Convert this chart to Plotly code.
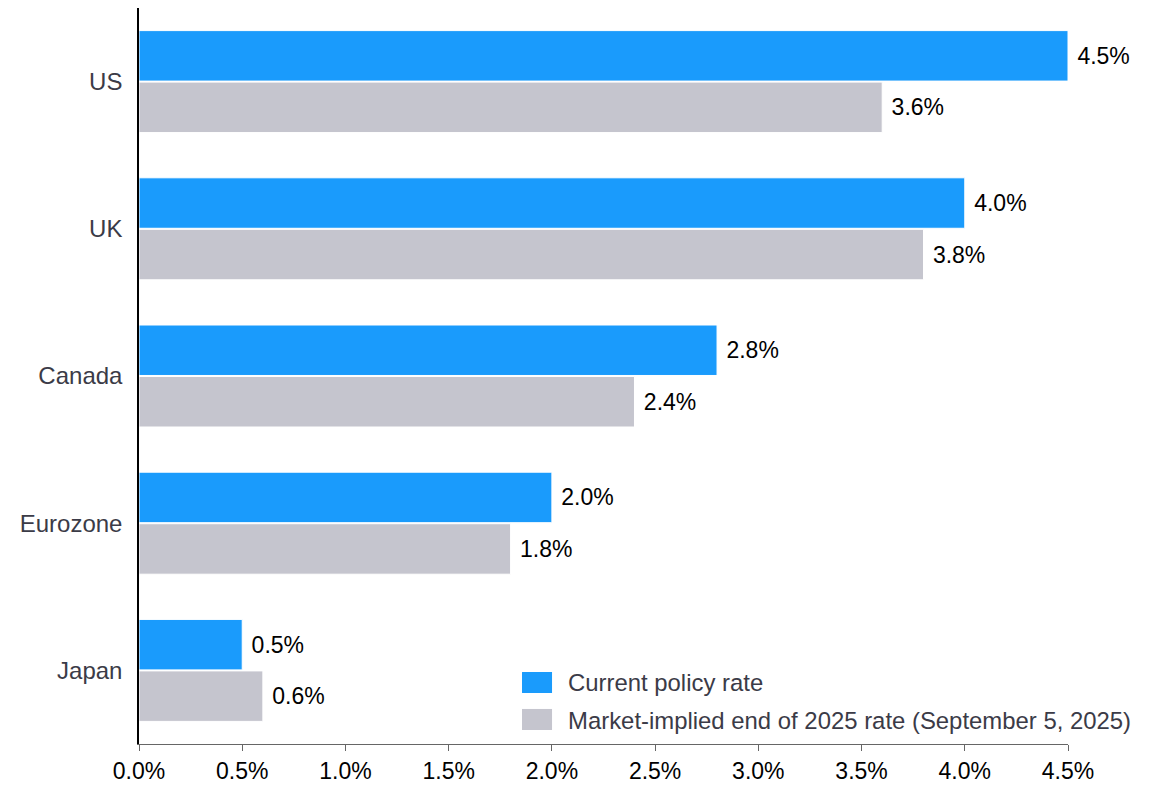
import plotly.graph_objects as go

# Policy rates by economy, in percent
countries = ["US", "UK", "Canada", "Eurozone", "Japan"]
current_rate = [4.5, 4.0, 2.8, 2.0, 0.5]
implied_2025 = [3.6, 3.8, 2.4, 1.8, 0.6]
series_names = ["Current policy rate", "Market-implied end of 2025 rate (September 5, 2025)"]
x_ticks = [0.0, 0.5, 1.0, 1.5, 2.0, 2.5, 3.0, 3.5, 4.0, 4.5]
x_tick_labels = [f"{v:.1f}%" for v in x_ticks]

BLUE = "#1a9bfc"
GRAY = "#c5c5ce"
FONT = "Liberation Sans, Arial, sans-serif"
LABEL_GRAY = "#3b3b47"

fig = go.Figure()
for name, vals, col in [(series_names[0], current_rate, BLUE),
                        (series_names[1], implied_2025, GRAY)]:
    fig.add_trace(go.Bar(
        name=name, y=countries, x=vals, orientation="h",
        marker=dict(color=col, line=dict(color="white", width=1)),
        texttemplate=" %{x:.1f}%", textposition="outside",
        textfont=dict(family=FONT, size=23, color="black"),
        cliponaxis=False, constraintext="none", showlegend=False,
    ))

fig.update_layout(
    width=1158, height=786,
    margin=dict(l=139, r=90, t=8, b=42),
    paper_bgcolor="white", plot_bgcolor="white",
    barmode="group", bargap=0.3, bargroupgap=0.02,
    font=dict(family=FONT, size=23, color="black"),
    xaxis=dict(range=[0, 4.5], tickmode="array", tickvals=x_ticks, ticktext=x_tick_labels,
               showgrid=False, zeroline=False, showline=True, linecolor="#666666",
               linewidth=1, ticks="outside", ticklen=6, tickcolor="#666666",
               automargin=False,
               tickfont=dict(family=FONT, size=23, color="black")),
    yaxis=dict(categoryorder="array", categoryarray=countries,
               range=[4.5, -0.5], showgrid=False, zeroline=False,
               showline=True, linecolor="black", linewidth=1.5, ticks="",
               ticklabelstandoff=10, automargin=False,
               tickfont=dict(family=FONT, size=24, color=LABEL_GRAY)),
)

# Legend drawn as swatches and text inside the plot area
legend_rows = [(series_names[0], BLUE, 0.0978, 0.0693, 0.0829),
               (series_names[1], GRAY, 0.0476, 0.0190, 0.0326)]
for text, col, y1, y0, yc in legend_rows:
    fig.add_shape(type="rect", xref="paper", yref="paper",
                  x0=0.4123, x1=0.4446, y0=y0, y1=y1,
                  fillcolor=col, line=dict(width=0))
    fig.add_annotation(xref="paper", yref="paper", x=0.4596, y=yc,
                       text=text, showarrow=False, xanchor="left", yanchor="middle",
                       font=dict(family=FONT, size=23.9, color=LABEL_GRAY))

fig.write_html("out.html")
